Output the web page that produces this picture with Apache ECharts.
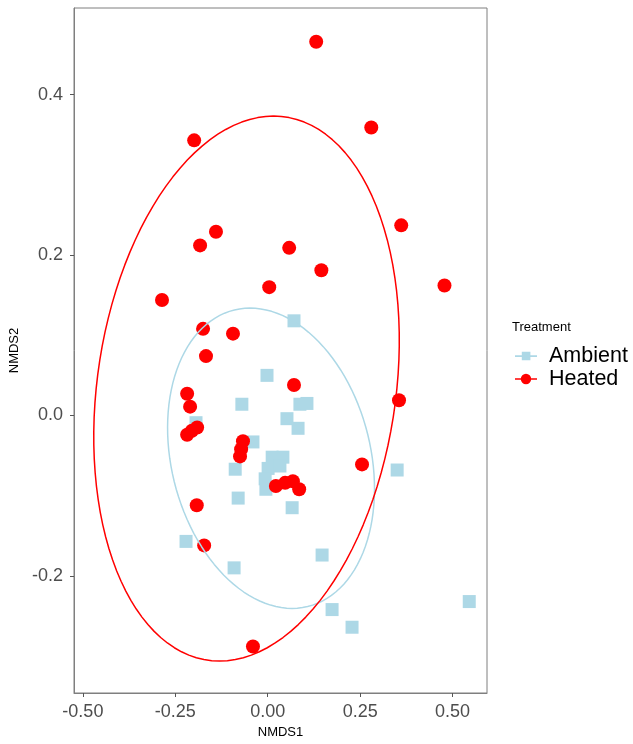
<!DOCTYPE html>
<html>
<head>
<meta charset="utf-8">
<script src="https://cdn.jsdelivr.net/npm/echarts@6/dist/echarts.min.js"></script>
<style>html,body{margin:0;padding:0;background:#fff}#c{width:633px;height:744px}</style>
</head>
<body>
<div id="c"></div>
<script>
// ---- data ----
const ambientX = [0.071,-0.002,-0.070,0.087,0.106,0.052,0.082,-0.194,-0.040,-0.088,0.012,0.041,0.001,0.033,-0.007,-0.005,-0.080,0.066,0.350,-0.221,-0.091,0.147,0.174,0.228,0.545];
const ambientY = [0.118,0.050,0.014,0.014,0.015,-0.004,-0.016,-0.009,-0.033,-0.067,-0.052,-0.052,-0.066,-0.063,-0.079,-0.092,-0.103,-0.115,-0.068,-0.157,-0.190,-0.174,-0.242,-0.264,-0.232];
const heatedX = [0.131,0.280,-0.199,-0.140,-0.183,0.058,0.361,0.145,0.004,-0.286,0.478,-0.175,-0.094,-0.167,0.071,-0.218,-0.210,0.355,-0.191,-0.205,-0.218,-0.067,-0.072,-0.075,0.022,0.047,0.068,0.085,-0.192,-0.172,-0.040,0.255];
const heatedY = [0.466,0.359,0.343,0.229,0.212,0.209,0.237,0.181,0.160,0.144,0.162,0.108,0.102,0.074,0.038,0.027,0.011,0.019,-0.015,-0.019,-0.024,-0.032,-0.042,-0.051,-0.088,-0.084,-0.082,-0.092,-0.112,-0.162,-0.288,-0.061];
// ellipse: centre, conjugate half-diameter U (to top point), horizontal half-diameter h
const heatedEllipse = [-0.0574, 0.0335, 0.0731, 0.3397, 0.4067];
const ambientEllipse = [0.0089, -0.0533, -0.0568, 0.1872, 0.274];
const xTicks = [-0.5,-0.25,0,0.25,0.5];
const yTicks = [-0.2,0,0.2,0.4];
const groups = ['Ambient','Heated'];

function pairs(xs, ys){ return xs.map((x,i)=>[x, ys[i]]); }
function ellipsePath(p){
  const out=[]; const n=120;
  for(let i=0;i<=n;i++){ const t=2*Math.PI*i/n;
    out.push([p[0]+p[2]*Math.cos(t)+p[4]*Math.sin(t), p[1]+p[3]*Math.cos(t)]); }
  return out;
}
const sqIcon = 'path://M0,6.4h22v1.6h-22z M6.8,2.8h8.6v8.6h-8.6z';
const ciIcon = 'path://M0,6.4h22v1.6h-22z M11,2a5.2,5.2 0 1,1 -0.01,0z';

const chart = echarts.init(document.getElementById('c'), null, {renderer:'canvas'});
chart.setOption({
  animation:false,
  textStyle:{fontFamily:'Liberation Sans, Arial, sans-serif'},
  title:{text:'Treatment', left:507, top:316, textStyle:{fontSize:13, fontWeight:'normal', color:'#000'}},
  legend:{orient:'vertical', left:510, top:340, itemWidth:22, itemHeight:14, itemGap:1,
    data:[{name:groups[0], icon:sqIcon},{name:groups[1], icon:ciIcon}],
    textStyle:{fontSize:21.5, color:'#000', padding:[0,0,0,7]}},
  grid:{left:74, right:146, top:8, bottom:47, show:true, borderColor:'#7f7f7f', borderWidth:1, containLabel:false},
  xAxis:{type:'value', min:-0.524, max:0.593,
    axisLine:{show:true, onZero:false, lineStyle:{color:'#7f7f7f'}},
    axisTick:{show:true, length:4, customValues:xTicks, lineStyle:{color:'#555'}},
    axisLabel:{customValues:xTicks, formatter:v=>Number(v).toFixed(2), fontSize:18, color:'#4d4d4d', margin:10},
    splitLine:{show:false},
    name:'NMDS1', nameLocation:'middle', nameGap:33, nameTextStyle:{fontSize:13, color:'#000'}},
  yAxis:{type:'value', min:-0.346, max:0.508,
    axisLine:{show:true, onZero:false, lineStyle:{color:'#7f7f7f'}},
    axisTick:{show:true, length:4, customValues:yTicks, lineStyle:{color:'#555'}},
    axisLabel:{customValues:yTicks, formatter:v=>Number(v).toFixed(1), fontSize:18, color:'#4d4d4d', margin:11},
    splitLine:{show:false},
    name:'NMDS2', nameLocation:'middle', nameGap:50, nameRotate:90, nameTextStyle:{fontSize:13, color:'#000'}},
  series:[
    {name:groups[0], type:'scatter', symbol:'rect', symbolSize:13, itemStyle:{color:'#add8e6', opacity:1}, data:pairs(ambientX, ambientY), z:2},
    {name:groups[1], type:'scatter', symbol:'circle', symbolSize:14, itemStyle:{color:'#ff0000', opacity:1}, data:pairs(heatedX, heatedY), z:3},
    {name:'ellA', type:'line', showSymbol:false, data:ellipsePath(ambientEllipse), lineStyle:{color:'#add8e6', width:1.5}, z:4, silent:true},
    {name:'ellH', type:'line', showSymbol:false, data:ellipsePath(heatedEllipse), lineStyle:{color:'#ff0000', width:1.5}, z:4, silent:true}
  ]
});
</script>
</body>
</html>
